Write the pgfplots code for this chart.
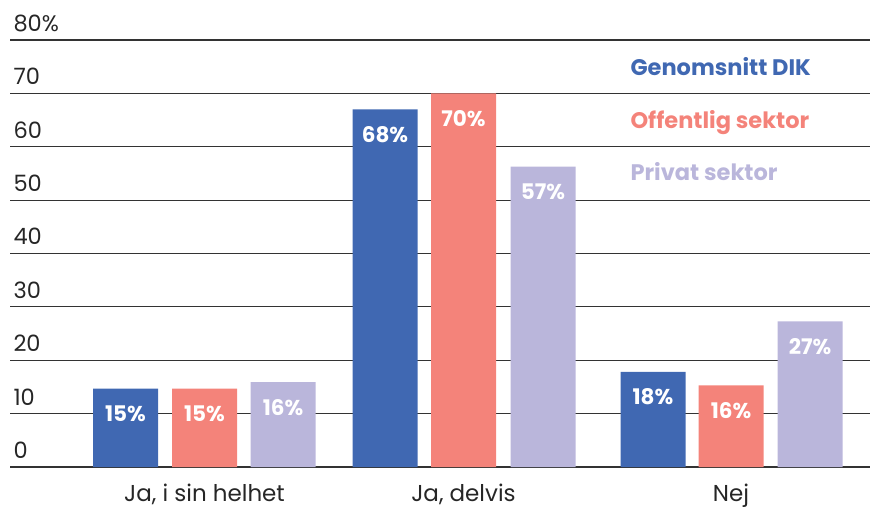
\documentclass[border=0pt]{standalone}
\usepackage{pgfplots}
\pgfplotsset{compat=1.18}
\usepackage{fontspec}
\setmainfont{Poppins}
\definecolor{cblue}{HTML}{4068B2}
\definecolor{cred}{HTML}{F4837A}
\definecolor{clav}{HTML}{BAB6DB}
\definecolor{cgrid}{HTML}{333333}
\begin{document}
\begin{tikzpicture}
\path[use as bounding box] (0,0) rectangle (870pt,509pt);
\begin{axis}[
  at={(10pt,42pt)}, anchor=south west,
  scale only axis, width=860pt, height=427pt,
  xmin=10, xmax=870, ymin=0, ymax=80,
  axis line style={draw=none},
  ytick={0,10,...,80},
  yticklabels={0,10,20,30,40,50,60,70,80\%},
  ymajorgrids, grid style={cgrid, line width=1.2pt},
  major tick length=0pt,
  yticklabel style={anchor=south west, xshift=0pt, yshift=5pt, font=\fontsize{22.5}{26}\selectfont, text=black!85},
  xtick={204.5,463.5,731},
  xticklabels={{Ja, i sin helhet},{Ja, delvis},{Nej}},
  xticklabel style={font=\fontsize{23}{26}\selectfont, text=black!85, yshift=-13pt},
  /pgf/number format/assume math mode=true,
  ybar, bar width=65pt, bar shift=0pt,
  clip=false,
  point meta=explicit symbolic,
  nodes near coords={\textbf{\pgfplotspointmeta\%}},
  every node near coord/.append style={anchor=center, yshift=-25pt, text=white, font=\bfseries\fontsize{21.5}{24}\selectfont},
]
\addplot[fill=cblue, draw=none] coordinates {(125.5,14.7)[15] (385,67)[68] (653,17.8)[18]};
\addplot[fill=cred, draw=none] coordinates {(204.5,14.7)[15] (463.5,70)[70] (731,15.3)[16]};
\addplot[fill=clav, draw=none] coordinates {(283,15.9)[16] (543,56.3)[57] (810,27.3)[27]};
\node[anchor=base west, text=cblue, font=\bfseries\fontsize{22.5}{26}\selectfont] at (axis cs:627,73.3) {Genomsnitt DIK};
\node[anchor=base west, text=cred, font=\bfseries\fontsize{22.5}{26}\selectfont] at (axis cs:627,63.4) {Offentlig sektor};
\node[anchor=base west, text=clav, font=\bfseries\fontsize{22.5}{26}\selectfont] at (axis cs:627,53.7) {Privat sektor};
\end{axis}
\end{tikzpicture}
\end{document}
